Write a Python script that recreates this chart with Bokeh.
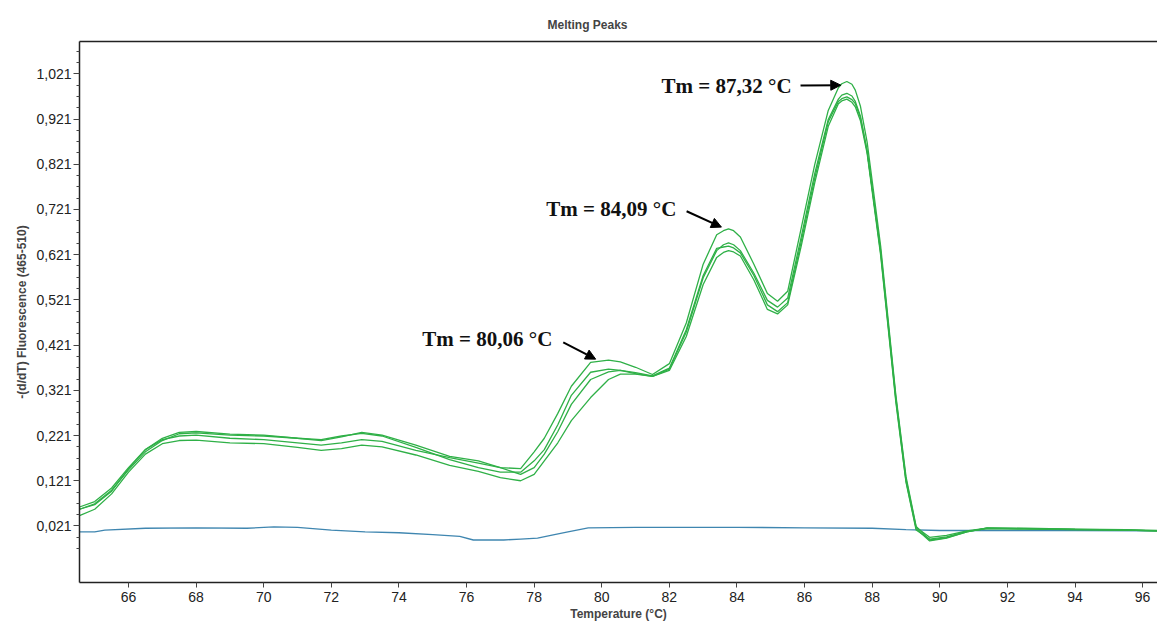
from bokeh.plotting import figure
from bokeh.models import Range1d, FixedTicker, LinearAxis, Label, Arrow, NormalHead
from bokeh.embed import file_html
from bokeh.resources import INLINE

# ---------------- data ----------------
temp = [64.55, 65.0, 65.5, 66.0, 66.5, 67.0, 67.5, 68.0, 69.0, 70.0, 71.0, 71.7,
        72.3, 72.9, 73.5, 74.5, 75.5, 76.35, 77.0, 77.6, 78.0, 78.3, 78.7, 79.1,
        79.67, 80.2, 80.55, 81.0, 81.5, 82.0, 82.5, 83.0, 83.4, 83.6, 83.75, 83.9,
        84.1, 84.5, 84.9, 85.2, 85.5, 85.9, 86.3, 86.7, 87.0, 87.1, 87.25, 87.4,
        87.5, 87.65, 87.85, 88.25, 88.7, 89.0, 89.3, 89.7, 90.2, 90.8, 91.4, 92.5,
        94.0, 95.5, 96.5]

sample_a = [0.063, 0.075, 0.105, 0.150, 0.190, 0.215, 0.228, 0.230, 0.224, 0.222, 0.215, 0.210,
            0.218, 0.228, 0.222, 0.200, 0.175, 0.165, 0.150, 0.148, 0.185, 0.215, 0.270, 0.330,
            0.383, 0.388, 0.384, 0.372, 0.356, 0.380, 0.470, 0.600, 0.665, 0.674, 0.678, 0.674,
            0.660, 0.600, 0.535, 0.518, 0.540, 0.680, 0.820, 0.940, 0.990, 0.999, 1.004, 0.998,
            0.985, 0.950, 0.870, 0.640, 0.310, 0.130, 0.020, -0.010, -0.005, 0.008, 0.016, 0.015,
            0.014, 0.012, 0.010]
sample_b = [0.058, 0.070, 0.100, 0.145, 0.185, 0.210, 0.225, 0.227, 0.222, 0.220, 0.215, 0.212,
            0.220, 0.226, 0.220, 0.195, 0.168, 0.150, 0.140, 0.140, 0.165, 0.190, 0.245, 0.310,
            0.361, 0.368, 0.365, 0.358, 0.352, 0.368, 0.450, 0.570, 0.630, 0.643, 0.647, 0.643,
            0.630, 0.580, 0.520, 0.505, 0.525, 0.660, 0.800, 0.920, 0.965, 0.974, 0.978, 0.972,
            0.960, 0.928, 0.850, 0.625, 0.300, 0.120, 0.015, -0.012, -0.006, 0.008, 0.017, 0.015,
            0.013, 0.012, 0.010]
sample_c = [0.058, 0.068, 0.098, 0.148, 0.190, 0.212, 0.220, 0.222, 0.215, 0.212, 0.205, 0.200,
            0.205, 0.212, 0.208, 0.188, 0.172, 0.160, 0.150, 0.135, 0.150, 0.180, 0.230, 0.290,
            0.345, 0.362, 0.365, 0.360, 0.353, 0.370, 0.455, 0.575, 0.635, 0.638, 0.640, 0.636,
            0.625, 0.575, 0.510, 0.495, 0.515, 0.650, 0.790, 0.915, 0.960, 0.966, 0.970, 0.964,
            0.955, 0.925, 0.850, 0.630, 0.305, 0.125, 0.018, -0.004, 0.000, 0.010, 0.016, 0.016,
            0.014, 0.013, 0.011]
sample_d = [0.044, 0.058, 0.092, 0.140, 0.180, 0.203, 0.210, 0.211, 0.205, 0.203, 0.195, 0.188,
            0.192, 0.200, 0.196, 0.178, 0.155, 0.142, 0.128, 0.121, 0.135, 0.165, 0.205, 0.254,
            0.305, 0.345, 0.357, 0.357, 0.352, 0.365, 0.440, 0.555, 0.615, 0.626, 0.630, 0.627,
            0.618, 0.565, 0.500, 0.490, 0.510, 0.640, 0.780, 0.905, 0.955, 0.961, 0.965, 0.958,
            0.948, 0.918, 0.845, 0.620, 0.295, 0.118, 0.012, -0.008, -0.003, 0.009, 0.015, 0.014,
            0.013, 0.012, 0.010]

temp_blank = [64.55, 65.0, 65.3, 66.5, 68.0, 69.5, 70.3, 71.0, 72.0, 73.0, 74.0, 75.0, 75.8,
              76.2, 77.1, 77.6, 78.1, 78.6, 79.0, 79.6, 81.0, 84.0, 86.0, 88.0, 89.0, 90.0,
              92.0, 94.0, 96.5]
blank = [0.008, 0.008, 0.012, 0.016, 0.017, 0.016, 0.019, 0.018, 0.012, 0.008, 0.006, 0.002,
         -0.002, -0.010, -0.010, -0.008, -0.006, 0.002, 0.008, 0.017, 0.018, 0.018, 0.017,
         0.016, 0.013, 0.011, 0.011, 0.011, 0.010]

x_ticks = [66, 68, 70, 72, 74, 76, 78, 80, 82, 84, 86, 88, 90, 92, 94, 96]
y_ticks = [0.021, 0.121, 0.221, 0.321, 0.421, 0.521, 0.621, 0.721, 0.821, 0.921, 1.021]
y_tick_labels = ["0,021", "0,121", "0,221", "0,321", "0,421", "0,521", "0,621",
                 "0,721", "0,821", "0,921", "1,021"]

# annotations: text, text anchor (x, y), arrow start, arrow end
ann_text = ["Tm = 87,32 °C", "Tm = 84,09 °C", "Tm = 80,06 °C"]
ann_text_xy = [(81.77, 0.994), (78.36, 0.723), (74.69, 0.435)]
ann_arrow_from = [(85.88, 0.995), (82.51, 0.717), (78.86, 0.427)]
ann_arrow_to = [(87.07, 0.996), (83.54, 0.682), (79.82, 0.390)]

# ---------------- figure ----------------
p = figure(width=1157, height=623, output_backend="svg", toolbar_location=None,
           x_range=Range1d(64.55, 96.44), y_range=Range1d(-0.104, 1.0925),
           min_border_left=79, min_border_right=0, min_border_top=41, min_border_bottom=41)
p.outline_line_color = None
p.grid.visible = False
p.background_fill_color = "white"
p.border_fill_color = "white"

xa = p.below[0]
ya = p.left[0]

p.title.text = "Melting Peaks"
p.title.text_font = "Liberation Sans"
p.title.text_font_style = "bold"
p.title.text_font_size = "12px"
p.title.align = "left"
p.title.offset = 468
p.title.standoff = 20

minor = []
for t in y_ticks:
    for k in (1, 2, 3):
        minor.append(round(t + 0.025 * k, 3))
minor = [-0.029, -0.004] + [m for m in minor if m < 1.09]

ya.ticker = FixedTicker(ticks=y_ticks, minor_ticks=minor)
ya.major_label_overrides = {t: l for t, l in zip(y_ticks, y_tick_labels)}
ya.axis_label = "-(d/dT) Fluorescence (465-510)"
ya.axis_label_text_font = "Liberation Sans"
ya.axis_label_text_font_style = "bold"
ya.axis_label_text_font_size = "12px"
ya.axis_label_standoff = 4
ya.major_label_text_font = "Liberation Sans"
ya.major_label_text_font_size = "14px"
ya.major_label_text_color = "#222222"
ya.major_label_standoff = 2
ya.major_tick_in = 0
ya.major_tick_out = 6
ya.minor_tick_in = 0
ya.minor_tick_out = 3
ya.axis_line_color = "#222222"
ya.axis_line_width = 1.5
ya.major_tick_line_color = "#444444"
ya.minor_tick_line_color = "#444444"

xa.ticker = FixedTicker(ticks=x_ticks)
xa.axis_label = "Temperature (°C)"
xa.axis_label_text_font = "Liberation Sans"
xa.axis_label_text_font_style = "bold"
xa.axis_label_text_font_size = "12px"
xa.axis_label_standoff = 2
xa.major_label_text_font = "Liberation Sans"
xa.major_label_text_font_size = "14px"
xa.major_label_text_color = "#222222"
xa.major_label_standoff = 4
xa.major_tick_in = 0
xa.major_tick_out = 5
xa.minor_tick_out = 0
xa.minor_tick_in = 0
xa.axis_line_color = "#222222"
xa.axis_line_width = 1.5
xa.major_tick_line_color = "#444444"

top = LinearAxis(ticker=FixedTicker(ticks=[]), major_label_text_font_size="0px",
                 major_tick_out=0, major_tick_in=0, minor_tick_out=0, minor_tick_in=0,
                 axis_line_color="#222222", axis_line_width=1.5, major_label_standoff=0)
p.add_layout(top, "above")

# ---------------- curves ----------------
p.line(temp_blank, blank, line_color="#3f86b0", line_width=1.3)
for s in (sample_d, sample_c, sample_b, sample_a):
    p.line(temp, s, line_color="#2fb047", line_width=1.3)

# ---------------- annotations ----------------
for txt, (tx, ty), (x0, y0), (x1, y1) in zip(ann_text, ann_text_xy, ann_arrow_from, ann_arrow_to):
    p.add_layout(Label(x=tx, y=ty, text=txt, text_font="Liberation Serif",
                       text_font_style="bold", text_font_size="21px",
                       text_baseline="middle", text_align="left", text_color="#111111"))
    p.add_layout(Arrow(x_start=x0, y_start=y0, x_end=x1, y_end=y1,
                       line_width=2, line_color="black",
                       end=NormalHead(size=10, fill_color="black", line_color="black")))

with open("out.html", "w") as f:
    f.write(file_html(p, INLINE))
